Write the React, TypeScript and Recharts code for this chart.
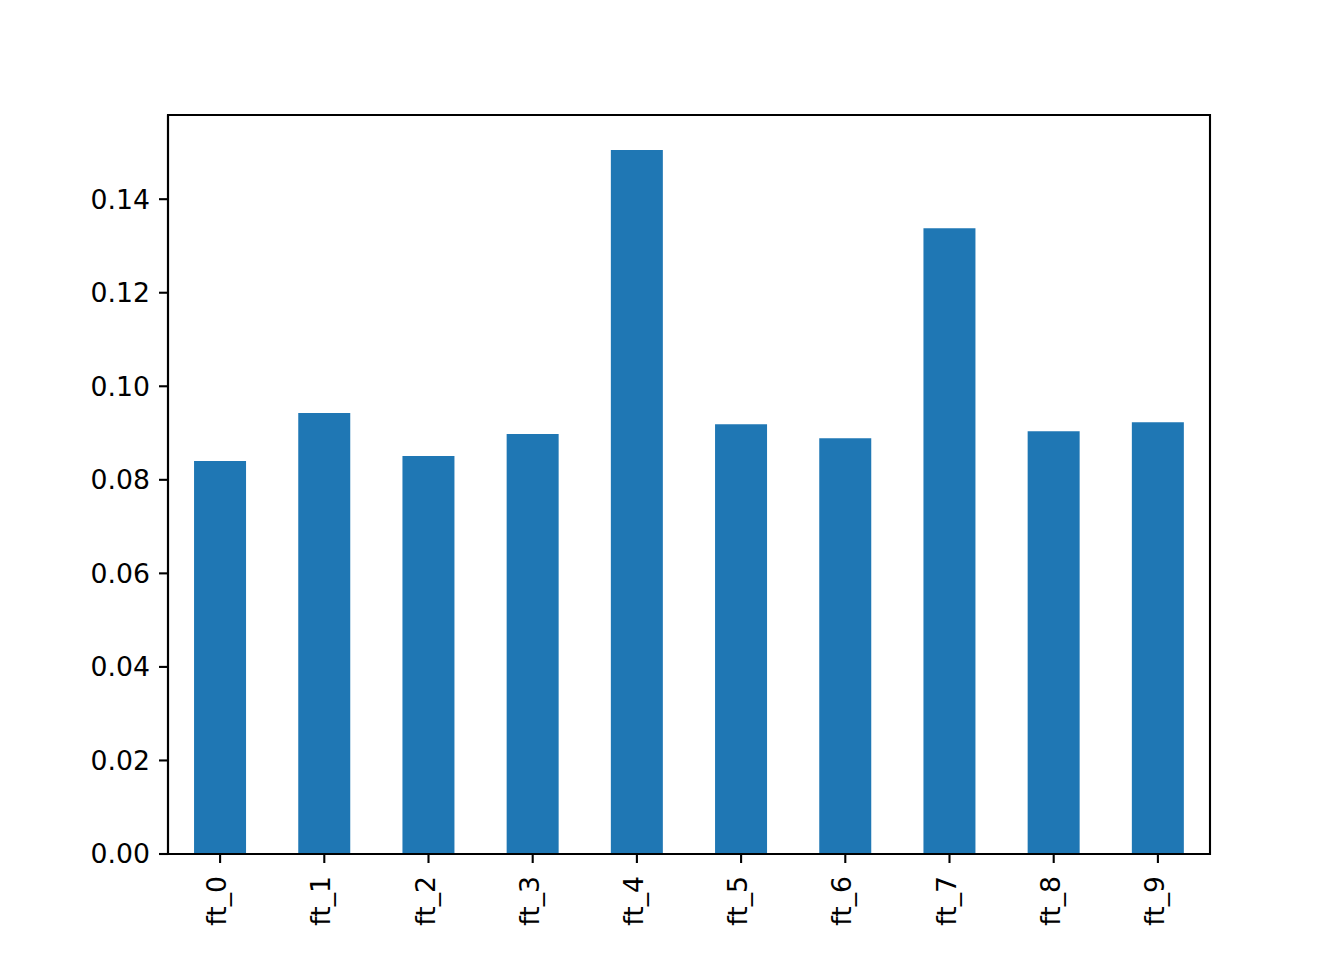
import { BarChart, Bar, XAxis, YAxis, ReferenceArea } from "recharts";

const features = ["ft_0", "ft_1", "ft_2", "ft_3", "ft_4", "ft_5", "ft_6", "ft_7", "ft_8", "ft_9"];
const importances = [0.084, 0.0943, 0.0851, 0.0898, 0.1505, 0.0919, 0.0889, 0.1338, 0.0904, 0.0923];
const yTicks = [0, 0.02, 0.04, 0.06, 0.08, 0.1, 0.12, 0.14];
const Y_MAX = 0.158;

const FONT = "'DejaVu Sans', sans-serif";
const FONT_SIZE = 26.7;

const chartData = features.map((name, i) => ({ name, value: importances[i] }));

// rotated x tick labels, like matplotlib's rot=90
const RotatedTick = (props: any) => {
  const { x, y, payload } = props;
  return (
    <text
      x={x}
      y={y}
      dy={6}
      transform={`rotate(-90, ${x}, ${y})`}
      textAnchor="end"
      fontFamily={FONT}
      fontSize={FONT_SIZE}
      fill="#000"
    >
      {payload.value}
    </text>
  );
};

const App = () => {
  return (
    <div style={{ position: "absolute", left: 0, top: 0, width: 1344, height: 960, background: "#fff" }}>
      <BarChart
        width={1344}
        height={960}
        data={chartData}
        margin={{ top: 115, right: 134, left: 68, bottom: 16 }}
        barCategoryGap="25%"
      >
        <XAxis
          dataKey="name"
          interval={0}
          height={90}
          tickSize={9}
          tickMargin={13}
          tick={<RotatedTick />}
          axisLine={{ stroke: "#000", strokeWidth: 2.1 }}
          tickLine={{ stroke: "#000", strokeWidth: 2.1 }}
        />
        <YAxis
          width={100}
          domain={[0, Y_MAX]}
          ticks={yTicks}
          interval={0}
          tickSize={9}
          tickMargin={9}
          tickFormatter={(v: number) => v.toFixed(2)}
          tick={{ fontFamily: FONT, fontSize: FONT_SIZE, fill: "#000" }}
          axisLine={{ stroke: "#000", strokeWidth: 2.1 }}
          tickLine={{ stroke: "#000", strokeWidth: 2.1 }}
        />
        <Bar dataKey="value" fill="#1f77b4" isAnimationActive={false} />
        {/* frame for top and right spines */}
        <ReferenceArea
          x1={features[0]}
          x2={features[features.length - 1]}
          y1={0}
          y2={Y_MAX}
          ifOverflow="visible"
          fill="none"
          fillOpacity={0}
          stroke="#000"
          strokeWidth={2.1}
          strokeOpacity={1}
        />
      </BarChart>
    </div>
  );
};

export default App;
